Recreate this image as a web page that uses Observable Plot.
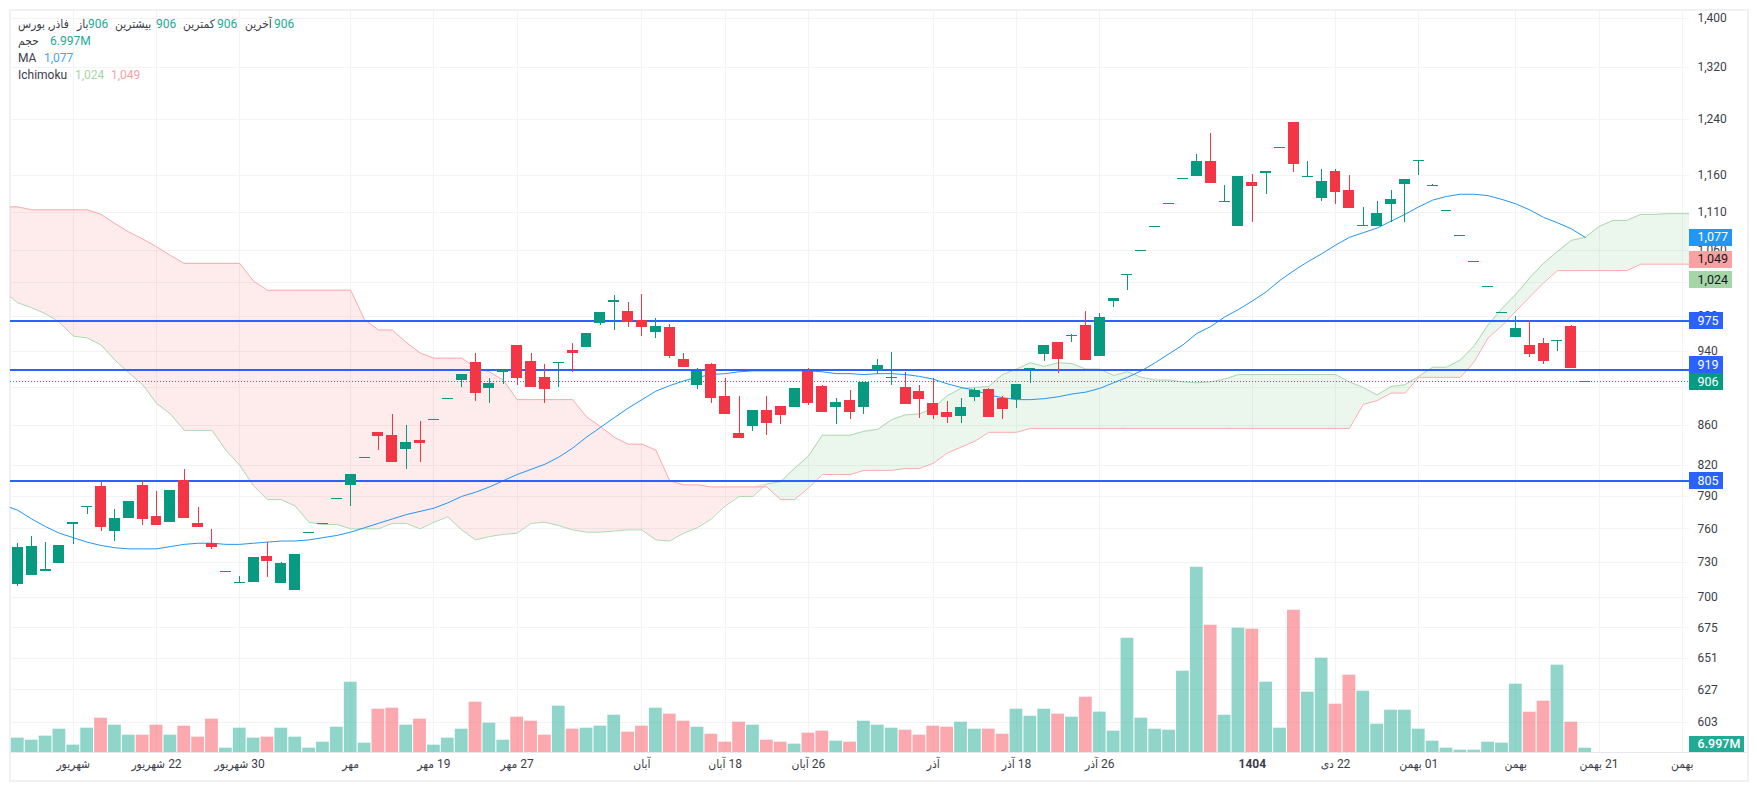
<!DOCTYPE html>
<html lang="fa">
<head>
<meta charset="utf-8">
<script src="https://cdn.jsdelivr.net/npm/d3@7"></script>
<script src="https://cdn.jsdelivr.net/npm/@observablehq/plot@0.6"></script>
<style>
  html, body { margin: 0; padding: 0; background: #fff; }
  #chart { position: relative; width: 1757px; height: 790px; overflow: hidden; font-family: Roboto, "DejaVu Sans Condensed", "DejaVu Sans", sans-serif; }
  #chart svg { position: absolute; left: 0; top: 0; background: transparent; }
  #frame { position: absolute; left: 9px; top: 9px; width: 1736px; height: 769px; border: 2px solid #f0f1f5; }
  .lg { position: absolute; font-size: 12px; line-height: 16px; white-space: nowrap; color: #3a3e4a; }
</style>
</head>
<body>
<div id="chart"><div id="frame"></div></div>
<script>
const opens = [711,719,722,729,764,780,799,758,769,800,771,766,805,765,747,722,712,713,735,712,
706,757,765,788,800,828,853,850,836,845,866,888,908,927,899,916,946,928,911,926,
941,944,972,996,986,975,961,967,931,902,925,890,852,859,876,880,879,917,901,879,
886,879,918,910,900,896,883,873,869,889,898,888,887,919,936,950,957,969,934,997,
1029,1060,1091,1122,1155,1158,1179,1123,1091,1150,1162,1199,1236,1157,1128,1165,1139,1091,1091,1120,
1147,1180,1145,1112,1079,1046,1015,985,955,946,949,951,968,906];
const highs = [747,753,748,745,766,781,803,778,785,805,795,796,816,780,759,722,718,734,748,730,
737,757,765,788,811,828,853,871,860,864,866,888,914,937,910,918,946,937,925,927,
949,960,985,1005,996,1006,977,970,937,921,926,910,890,876,890,880,899,921,902,888,
897,905,931,938,916,902,910,885,888,899,899,890,903,921,946,950,959,986,983,1001,
1030,1060,1091,1122,1155,1189,1220,1146,1158,1161,1165,1199,1236,1179,1168,1168,1160,1116,1124,1139,
1154,1181,1147,1112,1079,1046,1015,985,980,975,954,952,969,906];
const lows = [709,719,722,729,746,773,758,749,769,763,764,766,770,762,741,722,712,713,717,712,
706,757,765,788,781,828,835,824,816,823,866,888,900,885,883,903,902,901,883,900,
916,944,969,964,967,956,954,932,923,898,883,872,848,854,850,861,879,881,875,861,
866,871,914,902,883,867,866,862,862,885,869,866,878,904,928,915,950,929,934,990,
1011,1060,1091,1122,1155,1158,1150,1123,1091,1096,1134,1199,1164,1157,1124,1120,1116,1091,1091,1096,
1096,1160,1145,1112,1079,1046,1015,985,955,933,925,939,922,906];
const closes = [743,744,724,745,766,781,762,769,785,769,764,796,770,762,744,722,713,734,732,729,
737,757,765,788,811,828,850,824,843,843,866,888,914,895,904,918,911,901,899,927,
938,960,985,999,974,968,968,935,923,917,889,872,848,876,863,871,899,884,875,884,
875,905,924,911,883,888,871,869,879,897,869,878,903,921,946,932,958,931,979,1001,
1030,1060,1091,1122,1155,1179,1150,1124,1158,1146,1165,1199,1176,1158,1151,1138,1116,1092,1108,1127,
1154,1181,1146,1112,1079,1046,1015,985,966,937,929,952,922,906];
// Volume in millions of shares
const volumes = [23.2,19.9,26.4,37.7,11.9,39.3,55.5,44.2,28,28,44.2,28,42.6,24.8,53.9,7,39.3,23.2,24.8,39.3,
24.8,7,16.7,40.9,113.7,15.1,70,71.7,44.2,53.9,11.9,23.2,37.7,81.4,47.4,19.9,57.1,50.6,28,74.9,
37.7,39.3,42.6,60.3,32.9,42.6,71.7,62,50.6,40.9,29.6,16.7,49,44.2,19.9,16.7,13.5,31.3,34.5,18.3,
16.7,50.6,44.2,39.3,36.1,28,42.6,40.9,49,37.7,37.7,29.6,70,58.7,70,62,57.1,89.4,65.2,34.5,
184.8,55.5,37.7,36.1,131.5,299.6,205.8,60.3,201,199.4,113.7,39.3,230.1,97.5,152.5,78.1,125,99.1,45.8,68.4,
68.4,37.7,18.3,7,3.8,3.8,16.7,15.1,110.5,65.2,83,141.2,49,6.997];
// Moving average, starting one bar before the first candle
const movingAverage = [782,777,769,762,756,752,748,745,743,742,742,742,744,746,747,747,746,746,747,748,
749,749,750,752,754,757,761,765,769,773,776,779,784,790,794,799,805,811,816,821,
828,837,848,858,868,878,887,896,902,907,911,914,915,917,918,918,918,918,918,917,
915,915,914,915,915,914,912,909,904,900,897,892,889,887,887,888,890,893,895,899,
905,911,918,927,937,947,960,968,979,988,998,1009,1023,1035,1046,1056,1067,1077,1083,1089,
1098,1107,1117,1126,1131,1134,1134,1132,1127,1121,1113,1103,1096,1088,1077];
// Ichimoku cloud edges, starting one bar before the first candle and running past the last one
const spanA = [1009,996,990,983,973,957,955,947,930,916,903,
883,872,855,855,855,835,820,800,787,787,
781,766,764,764,760,760,760,765,765,760,
766,771,759,750,753,755,756,765,766,763,
759,757,757,758,759,759,750,749,756,761,
769,781,790,790,802,804,817,829,850,850,
850,854,856,866,871,872,878,891,899,900,
901,914,920,927,923,927,926,920,920,913,
917,911,908,908,906,905,906,909,914,914,
914,914,914,914,914,914,906,900,892,901,
903,912,922,922,930,946,970,989,1006,1026,
1044,1059,1073,1077,1091,1099,1099,1107,1107,1108,1108,1108];
const spanB = [1117,1117,1113,1113,1113,1113,1113,1107,1095,1084,1075,
1065,1054,1044,1044,1044,1044,1044,1022,1011,1011,
1011,1011,1011,1011,1011,976,964,964,950,938,
932,932,932,922,917,908,887,887,887,887,
887,869,859,848,841,841,835,805,801,801,
799,799,799,799,799,787,787,798,811,811,
811,815,815,815,817,817,822,832,838,844,
853,853,853,857,857,857,857,857,857,857,
857,857,857,857,857,857,857,857,857,857,
857,857,857,857,857,857,857,882,886,894,
894,911,911,911,911,928,955,969,986,1003,
1020,1035,1035,1035,1035,1035,1035,1043,1043,1043,1043,1043];
const priceGrid = [1400,1320,1240,1160,1110,1060,1020,980,940,900,860,820,790,760,730,700,675,651,627,603];
const priceTicks = [1400,1320,1240,1160,1110,1060,980,940,860,820,790,760,730,700,675,651,627,603];
const levels = [975,919,805];
const lastPrice = 906;
const lastVolume = 6.997;
const dateTicks = [4,10,16,24,30,36,45,51,57,66,72,78,89,95,101,108,114,120];
const dateLabels = ["شهریور","22 شهریور","30 شهریور","مهر","19 مهر","27 مهر","آبان","18 آبان","26 آبان","آذر","18 آذر","26 آذر","1404","22 دی","01 بهمن","بهمن","21 بهمن","بهمن"];
const priceLabels = [
  {v:1077, t:"1,077", bg:"#2196f3", fg:"#fff", wide:true, dy:0},
  {v:1049, t:"1,049", bg:"#faa1a4", fg:"#131722", wide:true, dy:0},
  {v:1024, t:"1,024", bg:"#a5d6a7", fg:"#131722", wide:true, dy:0},
  {v:975, t:"975", bg:"#2962ff", fg:"#fff", wide:false, dy:0},
  {v:919, t:"919", bg:"#2962ff", fg:"#fff", wide:false, dy:-5},
  {v:906, t:"906", bg:"#089981", fg:"#fff", wide:false, dy:0},
  {v:805, t:"805", bg:"#2962ff", fg:"#fff", wide:false, dy:0}
];

const GREEN = "#089981", RED = "#f23645", GRID = "#f2f3f5";
const FONT = 'Roboto, "DejaVu Sans Condensed", "DejaVu Sans", sans-serif';
const candles = opens.map((o,i)=>({i,o,h:highs[i],l:lows[i],c:closes[i],v:volumes[i],up:closes[i]>=o}));
const ups = candles.filter(d=>d.up), downs = candles.filter(d=>!d.up);
const cloud = spanA.map((a,k)=>({i:k-1,a,b:spanB[k]}));
const maRows = movingAverage.map((v,k)=>({i:k-1,v}));
const xDomain = [-0.526,120.52];
const layout = {width:1757,height:790,marginLeft:10,marginRight:68,marginTop:10,marginBottom:38};
const tagX1 = xDomain[1], tagX2 = 123.6, tagX2n = 122.98, tagTextX = 121.1;
const crisp = {shapeRendering:"crispEdges"};

const candleMarks = (rows,color)=>[
  Plot.ruleX(rows,{x:"i",y1:"l",y2:"h",stroke:color,strokeWidth:1,...crisp}),
  Plot.rect(rows,{x1:d=>d.i-0.395,x2:d=>d.i+0.395,y1:d=>Math.min(d.o,d.c),y2:d=>Math.max(d.o,d.c),fill:color,...crisp}),
  Plot.ruleY(rows,{y:"c",x1:d=>d.i-0.395,x2:d=>d.i+0.395,stroke:color,strokeWidth:1,...crisp})
];
const tagMarks = priceLabels.flatMap(d=>[
  Plot.ruleY([d],{y:"v",dy:d.dy,x1:tagX1,x2:d.wide?tagX2:tagX2n,stroke:d.bg,strokeWidth:17,...crisp}),
  Plot.text([d],{y:"v",dy:d.dy,x:tagTextX,text:"t",fill:d.fg,textAnchor:"start",fontSize:12.5})
]);
const dateRows = dateTicks.map((i,k)=>({i,label:"\u200F"+dateLabels[k],bold:dateLabels[k]==="1404"}));

const pricePlot = Plot.plot({
  ...layout,
  style:{fontFamily:FONT,fontSize:"12px",background:"transparent",color:"#3a3e4a"},
  x:{type:"linear",domain:xDomain,axis:null},
  y:{type:"log",domain:[581.6,1412.7],axis:null},
  marks:[
    Plot.gridY(priceGrid,{stroke:GRID,strokeOpacity:1,...crisp}),
    Plot.gridX(dateTicks,{stroke:GRID,strokeOpacity:1,...crisp}),
    Plot.areaY(cloud,{x:"i",y1:"a",y2:d=>Math.max(d.a,d.b),fill:"#f23645",fillOpacity:0.1,clip:true}),
    Plot.areaY(cloud,{x:"i",y1:"b",y2:d=>Math.max(d.a,d.b),fill:"#4caf50",fillOpacity:0.11,clip:true}),
    Plot.line(cloud,{x:"i",y:"a",stroke:"#add8ae",strokeWidth:1,clip:true}),
    Plot.line(cloud,{x:"i",y:"b",stroke:"#fba9ab",strokeWidth:1,clip:true}),
    Plot.line(maRows,{x:"i",y:"v",stroke:"#2196f3",strokeWidth:1,clip:true}),
    Plot.ruleY([lastPrice],{stroke:GREEN,strokeWidth:1,strokeDasharray:"1 2",...crisp}),
    Plot.ruleY(levels,{stroke:"#2962ff",strokeWidth:2,...crisp}),
    ...candleMarks(ups,GREEN),
    ...candleMarks(downs,RED),
    Plot.axisY(priceTicks,{anchor:"right",tickSize:0,tickPadding:8,label:null,tickFormat:d3.format(","),fontSize:12,fill:"#3a3e4a"}),
    ...tagMarks,
    Plot.text(dateRows.filter(d=>!d.bold),{x:"i",frameAnchor:"bottom",dy:15,text:"label",fontFamily:FONT,fontSize:12,fill:"#3a3e4a"}),
    Plot.text(dateRows.filter(d=>d.bold),{x:"i",frameAnchor:"bottom",dy:15,text:"label",fontFamily:FONT,fontSize:12,fontWeight:700,fill:"#3a3e4a"})
  ]
});
pricePlot.style.pointerEvents = "none";

const volumePlot = Plot.plot({
  ...layout,
  style:{fontFamily:FONT,fontSize:"12px",background:"transparent"},
  x:{type:"linear",domain:xDomain,axis:null},
  y:{type:"linear",domain:[0,1200],axis:null},
  marks:[
    Plot.rect(ups,{x1:d=>d.i-0.46,x2:d=>d.i+0.46,y1:0,y2:"v",fill:"#22ab94",fillOpacity:0.5}),
    Plot.rect(downs,{x1:d=>d.i-0.46,x2:d=>d.i+0.46,y1:0,y2:"v",fill:"#f7525f",fillOpacity:0.5}),
    Plot.ruleY([0],{x1:xDomain[0],x2:124.7,stroke:"#e6e8ee",strokeWidth:1,...crisp}),
    Plot.ruleY([lastVolume],{dy:-4,x1:tagX1,x2:124.45,stroke:"#22ab94",strokeWidth:16,...crisp}),
    Plot.text([lastVolume],{y:d=>d,dy:-4,x:tagTextX,text:()=>"6.997M",fill:"#fff",fontWeight:500,textAnchor:"start",fontSize:12.5})
  ]
});

const chart = document.getElementById("chart");
chart.appendChild(pricePlot);
chart.appendChild(volumePlot);

// Legend
const legend = [
  [18,16,"فاذر, بورس","#3a3e4a"],[77,16,"باز","#3a3e4a"],[88,16,"906","#22ab94"],
  [115,16,"بیشترین","#3a3e4a"],[156,16,"906","#22ab94"],[183,16,"کمترین","#3a3e4a"],[217,16,"906","#22ab94"],
  [245,16,"آخرین","#3a3e4a"],[274,16,"906","#22ab94"],
  [18,33,"حجم","#3a3e4a"],[50,33,"6.997M","#22ab94"],
  [18,50,"MA","#3a3e4a"],[44,50,"1,077","#42a5f5"],
  [18,67,"Ichimoku","#3a3e4a"],[75,67,"1,024","#a5d6a7"],[111,67,"1,049","#faa1a4"]
];
for (const [left,top,text,color] of legend) {
  const s = document.createElement("span");
  s.className = "lg";
  s.style.left = left+"px"; s.style.top = top+"px"; s.style.color = color;
  s.textContent = text;
  chart.appendChild(s);
}
</script>
</body>
</html>
